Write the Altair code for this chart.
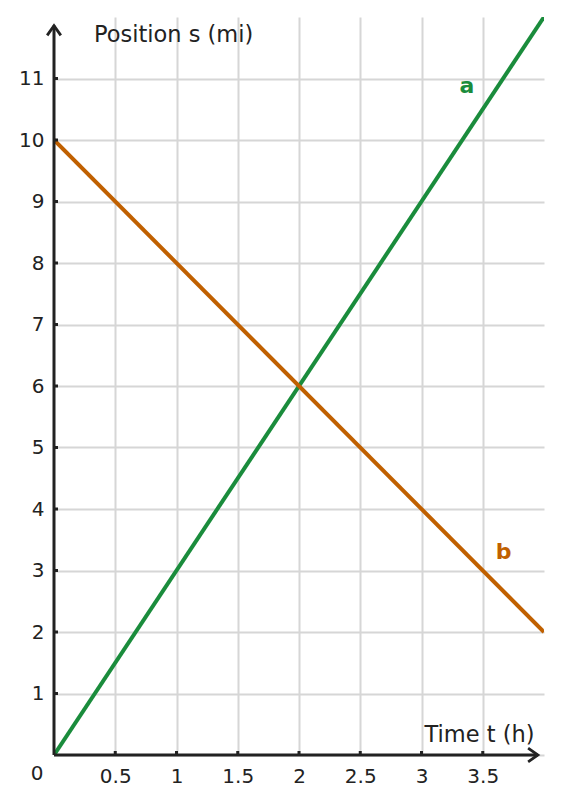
import altair as alt
import pandas as pd

# ---- data ----
time_pts = [0, 4]
pos_a = [0, 12]
pos_b = [10, 2]
x_tick_vals = [0.5, 1, 1.5, 2, 2.5, 3, 3.5]
y_tick_vals = [1, 2, 3, 4, 5, 6, 7, 8, 9, 10, 11]
series_names = ["a", "b"]
series_colors = ["#1a8c3c", "#c06000"]

FONT = "DejaVu Sans"
INK = "#222222"

lines_df = pd.DataFrame({
    "t": time_pts + time_pts,
    "s": pos_a + pos_b,
    "series": ["a"] * len(time_pts) + ["b"] * len(time_pts),
})

xaxis = alt.Axis(values=x_tick_vals, domain=False, ticks=False, grid=True, format="~g",
                 labelPadding=11, labelFontSize=20, labelFont=FONT,
                 labelColor=INK, gridColor="#d6d6d6", gridWidth=2, title=None)
yaxis = alt.Axis(values=[0] + y_tick_vals, domain=False, ticks=False, grid=True, format="~g",
                 labelPadding=10, labelFontSize=20, labelFont=FONT,
                 labelColor=INK, gridColor="#d6d6d6", gridWidth=2, title=None,
                 labelExpr="datum.value == 0 ? '' : datum.label")

X = alt.X("t:Q", scale=alt.Scale(domain=[0, 4], nice=False, zero=False), axis=xaxis)
Y = alt.Y("s:Q", scale=alt.Scale(domain=[0, 12], nice=False, zero=False), axis=yaxis)
COLOR = alt.Color("series:N", scale=alt.Scale(domain=series_names, range=series_colors), legend=None)

lines = alt.Chart(lines_df).mark_line(strokeWidth=4, clip=True).encode(x=X, y=Y, color=COLOR, detail="series:N")

# axis lines
axes_df = pd.DataFrame({"t": [0, 0], "s": [0, 0], "t2": [0, 3.95], "s2": [11.86, 0]})
axis_lines = alt.Chart(axes_df).mark_rule(color=INK, strokeWidth=3).encode(
    x=X, y=Y, x2="t2:Q", y2="s2:Q")

# arrows
up_df = pd.DataFrame({"t": [0], "s": [11.86]})
right_df = pd.DataFrame({"t": [3.95], "s": [0]})
arrow_up = alt.Chart(up_df).mark_point(
    shape="M-0.7,1L0,0L0.7,1", size=380, filled=False, stroke=INK, strokeWidth=2.8, opacity=1
).encode(x=X, y=Y)
arrow_right = alt.Chart(right_df).mark_point(
    shape="M-1,-0.7L0,0L-1,0.7", size=380, filled=False, stroke=INK, strokeWidth=2.8, opacity=1
).encode(x=X, y=Y)

# small inward ticks
xt_df = pd.DataFrame({"t": x_tick_vals, "s": [0] * len(x_tick_vals)})
yt_df = pd.DataFrame({"t": [0] * len(y_tick_vals), "s": y_tick_vals})
xticks = alt.Chart(xt_df).mark_point(
    shape="M0,0L0,-1", size=64, filled=False, stroke=INK, strokeWidth=3, opacity=1
).encode(x=X, y=Y)
yticks = alt.Chart(yt_df).mark_point(
    shape="M0,0L1,0", size=64, filled=False, stroke=INK, strokeWidth=3, opacity=1
).encode(x=X, y=Y)

# texts
zero_df = pd.DataFrame({"t": [0], "s": [0], "txt": ["0"]})
zero_lbl = alt.Chart(zero_df).mark_text(
    font=FONT, fontSize=20, color=INK, dx=-17, dy=19, baseline="middle", align="center"
).encode(x=X, y=Y, text="txt:N")

ytitle_df = pd.DataFrame({"t": [0.326], "s": [11.59], "txt": ["Position s (mi)"]})
ytitle = alt.Chart(ytitle_df).mark_text(
    font=FONT, fontSize=22.5, color=INK, align="left", baseline="alphabetic"
).encode(x=X, y=Y, text="txt:N")

xtitle_df = pd.DataFrame({"t": [3.923], "s": [0.208], "txt": ["Time t (h)"]})
xtitle = alt.Chart(xtitle_df).mark_text(
    font=FONT, fontSize=22.5, color=INK, align="right", baseline="alphabetic"
).encode(x=X, y=Y, text="txt:N")

lab_df = pd.DataFrame({"t": [3.37, 3.67], "s": [10.76, 3.19], "series": series_names})
labels = alt.Chart(lab_df).mark_text(
    font=FONT, fontSize=22, fontWeight="bold", align="center", baseline="alphabetic"
).encode(x=X, y=Y, text="series:N", color=COLOR)

chart = alt.layer(
    lines, axis_lines, arrow_up, arrow_right, xticks, yticks,
    zero_lbl, ytitle, xtitle, labels
).properties(
    width=490, height=738,
    autosize=alt.AutoSizeParams(type="none"),
    padding={"left": 46, "top": 9, "right": 11, "bottom": 40},
    background="white",
).configure_view(stroke=None)

chart.save("out.html", embed_options={"renderer": "svg", "actions": False})
